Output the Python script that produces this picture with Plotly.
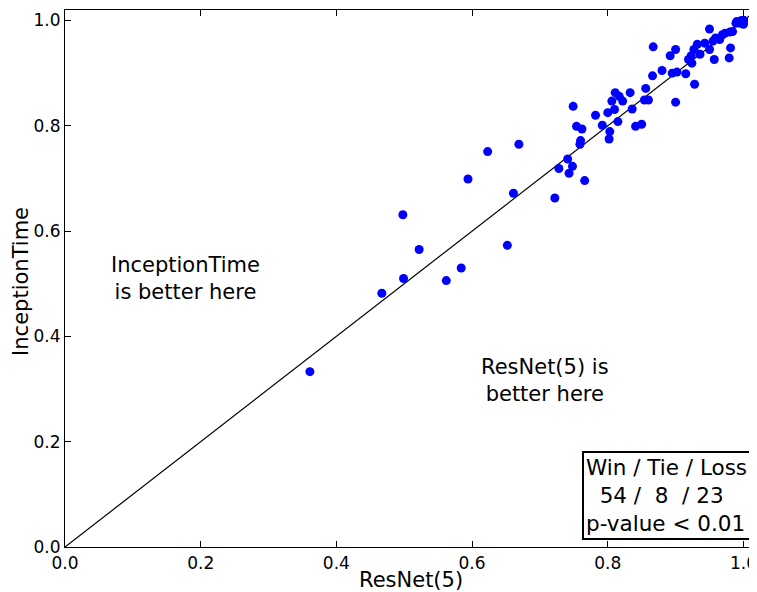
import plotly.graph_objects as go

resnet = [0.361, 0.467, 0.499, 0.498, 0.522, 0.562, 0.584, 0.594, 0.623, 0.652, 0.661, 0.669,
          0.722, 0.766, 0.743, 0.748, 0.728, 0.741, 0.759, 0.760, 0.754, 0.762, 0.749, 0.782,
          0.792, 0.803, 0.802, 0.815, 0.800, 0.810, 0.806, 0.811, 0.817, 0.822, 0.833, 0.836,
          0.841, 0.850, 0.856, 0.854, 0.860, 0.866, 0.880, 0.867, 0.900, 0.895, 0.902, 0.915,
          0.928, 0.892, 0.900, 0.919, 0.924, 0.923, 0.927, 0.932, 0.936, 0.943, 0.950, 0.950,
          0.957, 0.955, 0.959, 0.965, 0.969, 0.973, 0.980, 0.984, 0.981, 0.979, 0.989, 0.994,
          1.000, 0.997, 1.000, 1.000, 1.000, 1.000, 1.000, 1.000, 1.000, 0.990, 0.996, 0.998, 1.000]
inception = [0.333, 0.482, 0.510, 0.631, 0.565, 0.506, 0.530, 0.699, 0.751, 0.573, 0.672, 0.765,
             0.663, 0.696, 0.710, 0.723, 0.719, 0.737, 0.765, 0.772, 0.799, 0.794, 0.837, 0.820,
             0.801, 0.789, 0.775, 0.808, 0.825, 0.831, 0.847, 0.863, 0.856, 0.847, 0.863, 0.832,
             0.799, 0.803, 0.871, 0.849, 0.849, 0.895, 0.905, 0.950, 0.845, 0.900, 0.902, 0.899,
             0.879, 0.933, 0.945, 0.926, 0.919, 0.933, 0.945, 0.955, 0.936, 0.957, 0.945, 0.984,
             0.926, 0.961, 0.967, 0.964, 0.973, 0.976, 0.978, 0.979, 0.948, 0.929, 0.995, 0.995,
             0.993, 1.000, 1.000, 1.000, 1.000, 1.000, 1.000, 1.000, 1.000, 0.998, 0.997, 0.999, 0.996]
diag = [0.0, 1.02]
tick_vals = [0, 0.2, 0.4, 0.6, 0.8, 1.0]
tick_text = ["0.0", "0.2", "0.4", "0.6", "0.8", "1.0"]
x_title = "ResNet(5)"
y_title = "InceptionTime"

font = "DejaVu Sans"
fig = go.Figure()
fig.add_trace(go.Scatter(x=diag, y=diag, mode="lines", line=dict(color="black", width=1.2),
                         hoverinfo="skip", showlegend=False))
fig.add_trace(go.Scatter(x=resnet, y=inception, mode="markers",
                         marker=dict(color="#0000ff", size=9, line=dict(width=0)),
                         showlegend=False))

axis_common = dict(range=[0, 1.02], showgrid=False, zeroline=False, showline=True,
                   linecolor="black", linewidth=1.2, mirror="ticks", ticks="inside",
                   ticklen=6, tickwidth=1, tickcolor="black", tickvals=tick_vals,
                   ticktext=tick_text, automargin=False,
                   tickfont=dict(family=font, size=17, color="black"))
fig.update_xaxes(**axis_common)
fig.update_yaxes(**axis_common)

# axis titles
fig.add_annotation(xref="paper", yref="paper", x=0.5, y=-0.062, yanchor="middle", xanchor="center",
                   text=x_title, showarrow=False, font=dict(family=font, size=21, color="black"))
fig.add_annotation(xref="paper", yref="paper", x=-0.064, y=0.495, yanchor="middle", xanchor="center",
                   text=y_title, textangle=-90, showarrow=False,
                   font=dict(family=font, size=21, color="black"))

fig.add_annotation(x=0.177, y=0.51, text="InceptionTime<br>is better here", showarrow=False,
                   font=dict(family=font, size=21, color="black"), align="center")
fig.add_annotation(x=0.708, y=0.317, text="ResNet(5) is<br>better here", showarrow=False,
                   font=dict(family=font, size=21, color="black"), align="center")
fig.add_annotation(xref="paper", yref="paper", x=0.991, y=0.013, xanchor="right", yanchor="bottom",
                   text="Win / Tie / Loss<br>  54 /  8  / 23<br>p-value < 0.01", showarrow=False,
                   font=dict(family=font, size=21.5, color="black"), align="left",
                   bordercolor="black", borderwidth=2, borderpad=2, bgcolor="white")

# page body has an 8px default margin, so the figure is shrunk by that amount
fig.update_layout(width=749, height=584, margin=dict(l=57, r=0, t=2, b=45),
                  plot_bgcolor="white", paper_bgcolor="white")
fig.write_html("out.html")
